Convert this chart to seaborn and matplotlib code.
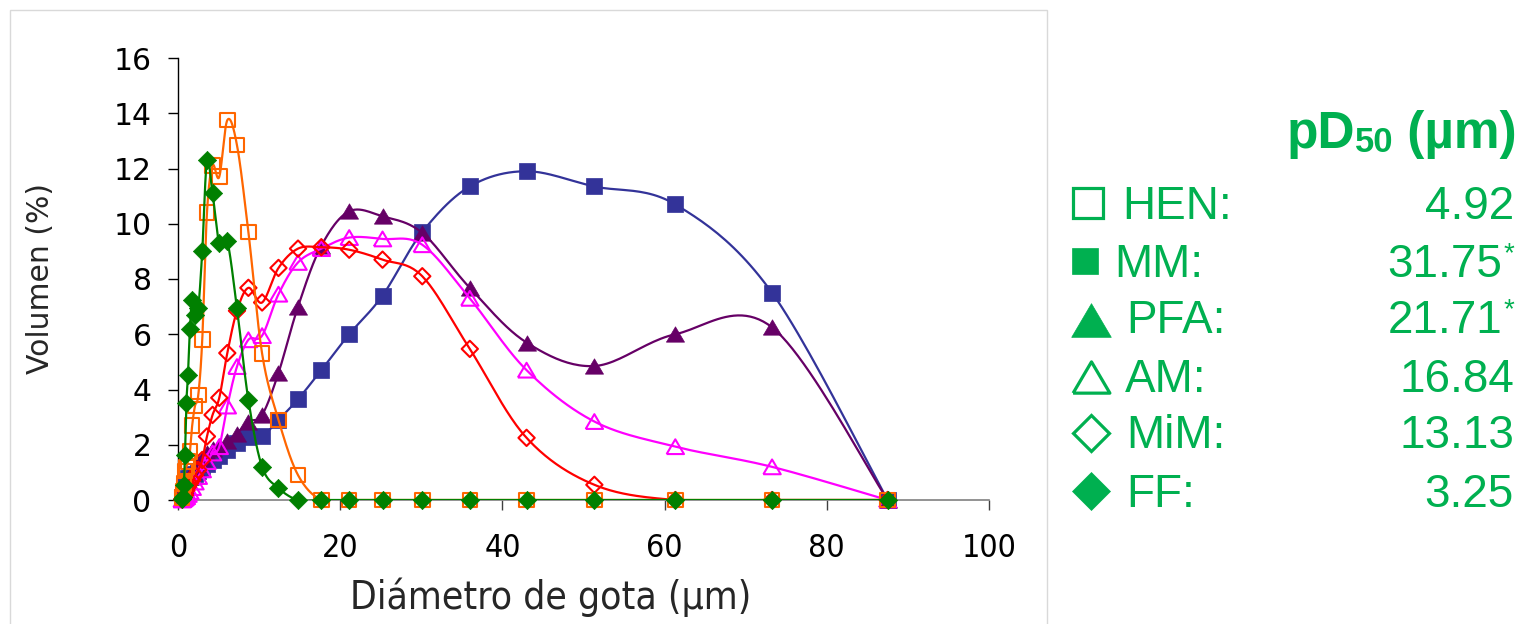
import numpy as np
import matplotlib
matplotlib.use("Agg")
import matplotlib.pyplot as plt
import seaborn as sns
from matplotlib import font_manager
from matplotlib.patches import Rectangle

# ---------------- data ----------------
diameter = [0.50, 0.60, 0.72, 0.86, 1.03, 1.23, 1.47, 1.75, 2.09, 2.50,
            2.99, 3.57, 4.26, 5.09, 6.08, 7.27, 8.68, 10.37, 12.39, 14.80,
            17.67, 21.11, 25.22, 30.12, 35.98, 42.98, 51.34, 61.32, 73.25, 87.50]

hen = [0.10, 0.30, 0.60, 1.05, 1.20, 1.40, 1.75, 2.70, 3.40, 3.80,
       5.80, 10.40, 12.10, 11.70, 13.75, 12.85, 9.70, 5.30, 2.90, 0.90,
       0.00, 0.00, 0.00, 0.00, 0.00, 0.00, 0.00, 0.00, 0.00, 0.00]
mm = [0.10, 0.25, 0.40, 0.55, 0.70, 0.80, 0.85, 0.90, 0.95, 1.05,
      1.15, 1.30, 1.45, 1.60, 1.80, 2.05, 2.28, 2.30, 2.90, 3.65,
      4.70, 6.00, 7.40, 9.70, 11.35, 11.90, 11.35, 10.70, 7.50, 0.00]
pfa = [0.05, 0.10, 0.20, 0.35, 0.50, 0.70, 0.85, 1.00, 1.15, 1.30,
       1.50, 1.70, 1.85, 1.95, 2.15, 2.40, 2.84, 3.08, 4.60, 7.00,
       9.20, 10.45, 10.27, 9.67, 7.68, 5.70, 4.85, 6.00, 6.25, 0.00]
am = [0.00, 0.02, 0.05, 0.08, 0.12, 0.20, 0.30, 0.45, 0.65, 0.85,
      1.09, 1.39, 1.70, 1.93, 3.40, 4.83, 5.80, 5.95, 7.45, 8.60,
      9.10, 9.50, 9.45, 9.24, 7.30, 4.70, 2.84, 1.93, 1.20, 0.00]
mim = [0.02, 0.05, 0.10, 0.18, 0.35, 0.48, 0.60, 0.72, 0.90, 1.09,
       1.45, 2.30, 3.08, 3.70, 5.32, 6.85, 7.68, 7.15, 8.40, 9.10,
       9.15, 9.06, 8.70, 8.10, 5.47, 2.25, 0.55, 0.00, 0.00, 0.00]
ff = [0.05, 0.12, 0.54, 1.63, 3.50, 4.53, 6.20, 7.25, 6.70, 6.95,
      9.00, 12.30, 11.10, 9.30, 9.36, 6.95, 3.62, 1.20, 0.43, 0.00,
      0.00, 0.00, 0.00, 0.00, 0.00, 0.00, 0.00, 0.00, 0.00, 0.00]

series_names = ["HEN", "MM", "PFA", "AM", "MiM", "FF"]
pd50_values = ["4.92", "31.75", "21.71", "16.84", "13.13", "3.25"]
pd50_flags = ["", "*", "*", "", "", ""]
x_ticks = [0, 20, 40, 60, 80, 100]
y_ticks = [0, 2, 4, 6, 8, 10, 12, 14, 16]
x_label = "Diámetro de gota (µm)"
y_label = "Volumen (%)"

# ---------------- style ----------------
sns.set_style("white")
plt.rcParams["font.family"] = ["DejaVu Sans"]

W, H = 1522, 624
fig = plt.figure(figsize=(W / 100, H / 100), dpi=100)
fig.patch.set_facecolor("white")

# condensed font for x axis if available
cond_fp = None
for f in font_manager.fontManager.ttflist:
    if f.name == "DejaVu Sans" and str(f.stretch) in ("condensed", "semi-condensed") and f.weight in (400, "normal"):
        cond_fp = dict(family="DejaVu Sans", stretch="condensed")
        break
if cond_fp is None:
    names = {f.name for f in font_manager.fontManager.ttflist}
    if "Liberation Sans Narrow" in names:
        cond_fp = dict(family="Liberation Sans Narrow")
    else:
        cond_fp = dict(family="DejaVu Sans")

# outer chart frame
fig.add_artist(Rectangle((10 / W, -0.05), 1037 / W, 1.05 - 10 / H,
                         transform=fig.transFigure, fill=False,
                         edgecolor="#d9d9d9", linewidth=1.0))

ax_l, ax_r, ax_t, ax_b = 178, 989, 58, 500
ax = fig.add_axes([ax_l / W, 1 - ax_b / H, (ax_r - ax_l) / W, (ax_b - ax_t) / H])
ax.set_facecolor("white")
ax.set_xlim(0, 100)
ax.set_ylim(0, 16)

sx = (ax_r - ax_l) / 100.0
sy = (ax_b - ax_t) / 16.0


def smooth(xs, ys, n=24):
    P = np.column_stack([np.asarray(xs, float) * sx, np.asarray(ys, float) * sy])
    outx, outy = [], []
    m = len(P)
    for i in range(m - 1):
        p0 = P[i - 1] if i > 0 else P[i]
        p1, p2 = P[i], P[i + 1]
        p3 = P[i + 2] if i + 2 < m else P[i + 1]
        c1 = p1 + (p2 - p0) / 6.0
        c2 = p2 - (p3 - p1) / 6.0
        t = np.linspace(0, 1, n, endpoint=(i == m - 2))[:, None]
        B = ((1 - t) ** 3) * p1 + 3 * ((1 - t) ** 2) * t * c1 + 3 * (1 - t) * t ** 2 * c2 + t ** 3 * p2
        outx.append(B[:, 0])
        outy.append(B[:, 1])
    return np.concatenate(outx) / sx, np.concatenate(outy) / sy


tri = [(-1, -0.85), (1, -0.85), (0, 0.85), (-1, -0.85)]

styles = {
    "HEN": dict(data=hen, color="#FF6600", marker="s", size=10.5, filled=False, z=7),
    "MM": dict(data=mm, color="#333399", marker="s", size=11.0, filled=True, z=3),
    "PFA": dict(data=pfa, color="#660066", marker=tri, size=13.0, filled=True, z=4),
    "AM": dict(data=am, color="#FF00FF", marker=tri, size=12.5, filled=False, z=5),
    "MiM": dict(data=mim, color="#FF0000", marker="D", size=8.3, filled=False, z=6),
    "FF": dict(data=ff, color="#008000", marker="D", size=9.3, filled=True, z=8),
}
draw_order = ["MM", "PFA", "AM", "MiM", "HEN", "FF"]

for name in draw_order:
    st = styles[name]
    lx, ly = smooth(diameter, st["data"])
    sns.lineplot(x=lx, y=ly, sort=False, estimator=None, color=st["color"],
                 linewidth=1.6, ax=ax, zorder=st["z"] * 2, legend=False)
    sns.scatterplot(x=diameter, y=st["data"], marker=st["marker"], s=st["size"] ** 2,
                    color=st["color"], ax=ax, zorder=st["z"] * 2 + 1, legend=False)
    coll = ax.collections[-1]
    coll.set_clip_on(False)
    if st["filled"]:
        coll.set_facecolor(st["color"])
        coll.set_edgecolor(st["color"])
        coll.set_linewidth(0.5)
    else:
        coll.set_facecolor("none")
        coll.set_edgecolor(st["color"])
        coll.set_linewidth(1.5)

ax.set_xticks(x_ticks)
ax.set_yticks(y_ticks)
for s in ["top", "right"]:
    ax.spines[s].set_visible(False)
ax.spines["left"].set_color("black")
ax.spines["left"].set_linewidth(1.0)
ax.spines["bottom"].set_color("#808080")
ax.spines["bottom"].set_linewidth(1.2)
ax.tick_params(axis="y", direction="out", length=7, width=1, color="black", pad=12,
               labelsize=21.5, labelcolor="black", left=True)
ax.tick_params(axis="x", direction="out", length=7, width=1, color="#404040", pad=17,
               labelsize=23, labelcolor="black", bottom=True)
for lab in ax.get_xticklabels():
    lab.set(**cond_fp)

ax.set_xlabel(x_label, fontsize=28, **cond_fp)
ax.xaxis.label.set_va("center")
ax.xaxis.set_label_coords((551 - ax_l) / (ax_r - ax_l), (ax_b - 597) / (ax_b - ax_t))
ax.set_ylabel(y_label, fontsize=21.5)
ax.yaxis.label.set_va("center")
ax.yaxis.set_label_coords((41 - ax_l) / (ax_r - ax_l), 0.5)

# ---------------- right-hand legend ----------------
green = "#00B050"
ov = fig.add_axes([0, 0, 1, 1], facecolor="none")
ov.set_xlim(0, W)
ov.set_ylim(H, 0)
ov.axis("off")

lf = "Liberation Sans"


def px(x, y):
    return x / W, 1 - y / H


# title pD50 (µm)
t3 = fig.text(*px(1517, 148), " (µm)", fontsize=37, fontweight="bold", color=green,
              family=lf, ha="right", va="baseline")
fig.canvas.draw()
rend = fig.canvas.get_renderer()
bb3 = t3.get_window_extent(rend)
t2 = fig.text(bb3.x0 / W, 1 - 152 / H, "50", fontsize=25, fontweight="bold", color=green,
              family=lf, ha="right", va="baseline")
bb2 = t2.get_window_extent(rend)
fig.text(bb2.x0 / W, 1 - 148 / H, "pD", fontsize=37, fontweight="bold", color=green,
         family=lf, ha="right", va="baseline")

row_base = [219, 277, 333, 392, 448, 507]
label_x = [1122, 1114, 1126, 1125, 1126, 1126]
mark_xy = [(1088, 203), (1085, 261), (1091, 320), (1091, 377), (1091, 433), (1091, 491)]
mark_style = [
    dict(marker="s", ms=21.5, mfc="none", mec=green, mew=2.3),
    dict(marker="s", ms=18.5, mfc=green, mec=green, mew=0.5),
    dict(marker=tri, ms=28.5, mfc=green, mec=green, mew=0.5),
    dict(marker=tri, ms=26.5, mfc="none", mec=green, mew=2.3),
    dict(marker="D", ms=18.5, mfc="none", mec=green, mew=2.3),
    dict(marker="D", ms=19.5, mfc=green, mec=green, mew=0.5),
]
for i, name in enumerate(series_names):
    mx, my = mark_xy[i]
    ov.plot([mx], [my], linestyle="none", **mark_style[i])
    fig.text(*px(label_x[i], row_base[i]), name + ":", fontsize=33, color=green,
             family=lf, ha="left", va="baseline")
    right = 1502 if pd50_flags[i] else 1514
    fig.text(*px(right, row_base[i]), pd50_values[i], fontsize=33, color=green,
             family=lf, ha="right", va="baseline")
    if pd50_flags[i]:
        fig.text(*px(1504, row_base[i] - 16), pd50_flags[i], fontsize=20, color=green,
                 family=lf, ha="left", va="baseline")

fig.savefig("out.png", dpi=100, facecolor="white")
